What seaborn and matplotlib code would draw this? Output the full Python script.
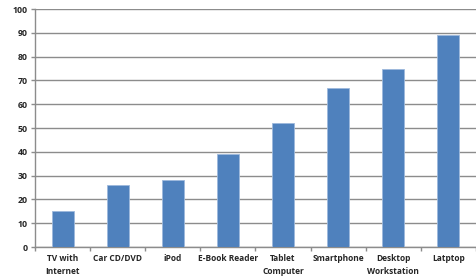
import matplotlib
matplotlib.use("Agg")
import matplotlib.pyplot as plt
import seaborn as sns
import pandas as pd

categories = ["TV with\nInternet", "Car CD/DVD", "iPod", "E-Book Reader",
              "Tablet\nComputer", "Smartphone", "Desktop\nWorkstation", "Latptop"]
values = [15, 26, 28, 39, 52, 67, 75, 89]
yticks = [0, 10, 20, 30, 40, 50, 60, 70, 80, 90, 100]

sns.set_theme(style="white")
plt.rcParams['font.family'] = ['Open Sans', 'DejaVu Sans']

df = pd.DataFrame({"cat": categories, "val": values})

fig = plt.figure(figsize=(4.76, 2.76), dpi=100)
ax = fig.add_axes([0.0735, 0.105, 0.9265, 0.862])
sns.barplot(data=df, x="cat", y="val", color="#4F81BD", width=0.4,
            edgecolor="#9DB9DC", linewidth=0.6, saturation=1, ax=ax, zorder=3)

ax.set_ylim(0, 100)
ax.set_xlim(-0.5, 7.5)
ax.set_yticks(yticks)
ax.set_yticklabels([str(t) for t in yticks], fontsize=6.3, fontweight="bold")
ax.set_xticks(range(len(categories)))
ax.set_xticklabels(categories, fontsize=6.0, fontweight="bold", linespacing=1.6)
ax.set_xlabel("")
ax.set_ylabel("")
ax.yaxis.grid(True, color="#8C8C8C", linewidth=1.0, zorder=0)
ax.set_axisbelow(True)
for s in ["top", "right"]:
    ax.spines[s].set_visible(False)
for s in ["left", "bottom"]:
    ax.spines[s].set_color("#8C8C8C")
    ax.spines[s].set_linewidth(1.0)
ax.tick_params(axis="y", length=3, width=1, color="#8C8C8C", pad=2, left=True)
ax.tick_params(axis="x", length=0, pad=5)
# minor ticks between categories on x-axis
ax.set_xticks([i + 0.5 for i in range(-1, 8)], minor=True)
ax.tick_params(axis="x", which="minor", length=3, width=1, color="#8C8C8C", bottom=True)

fig.savefig("out.png", dpi=100)
